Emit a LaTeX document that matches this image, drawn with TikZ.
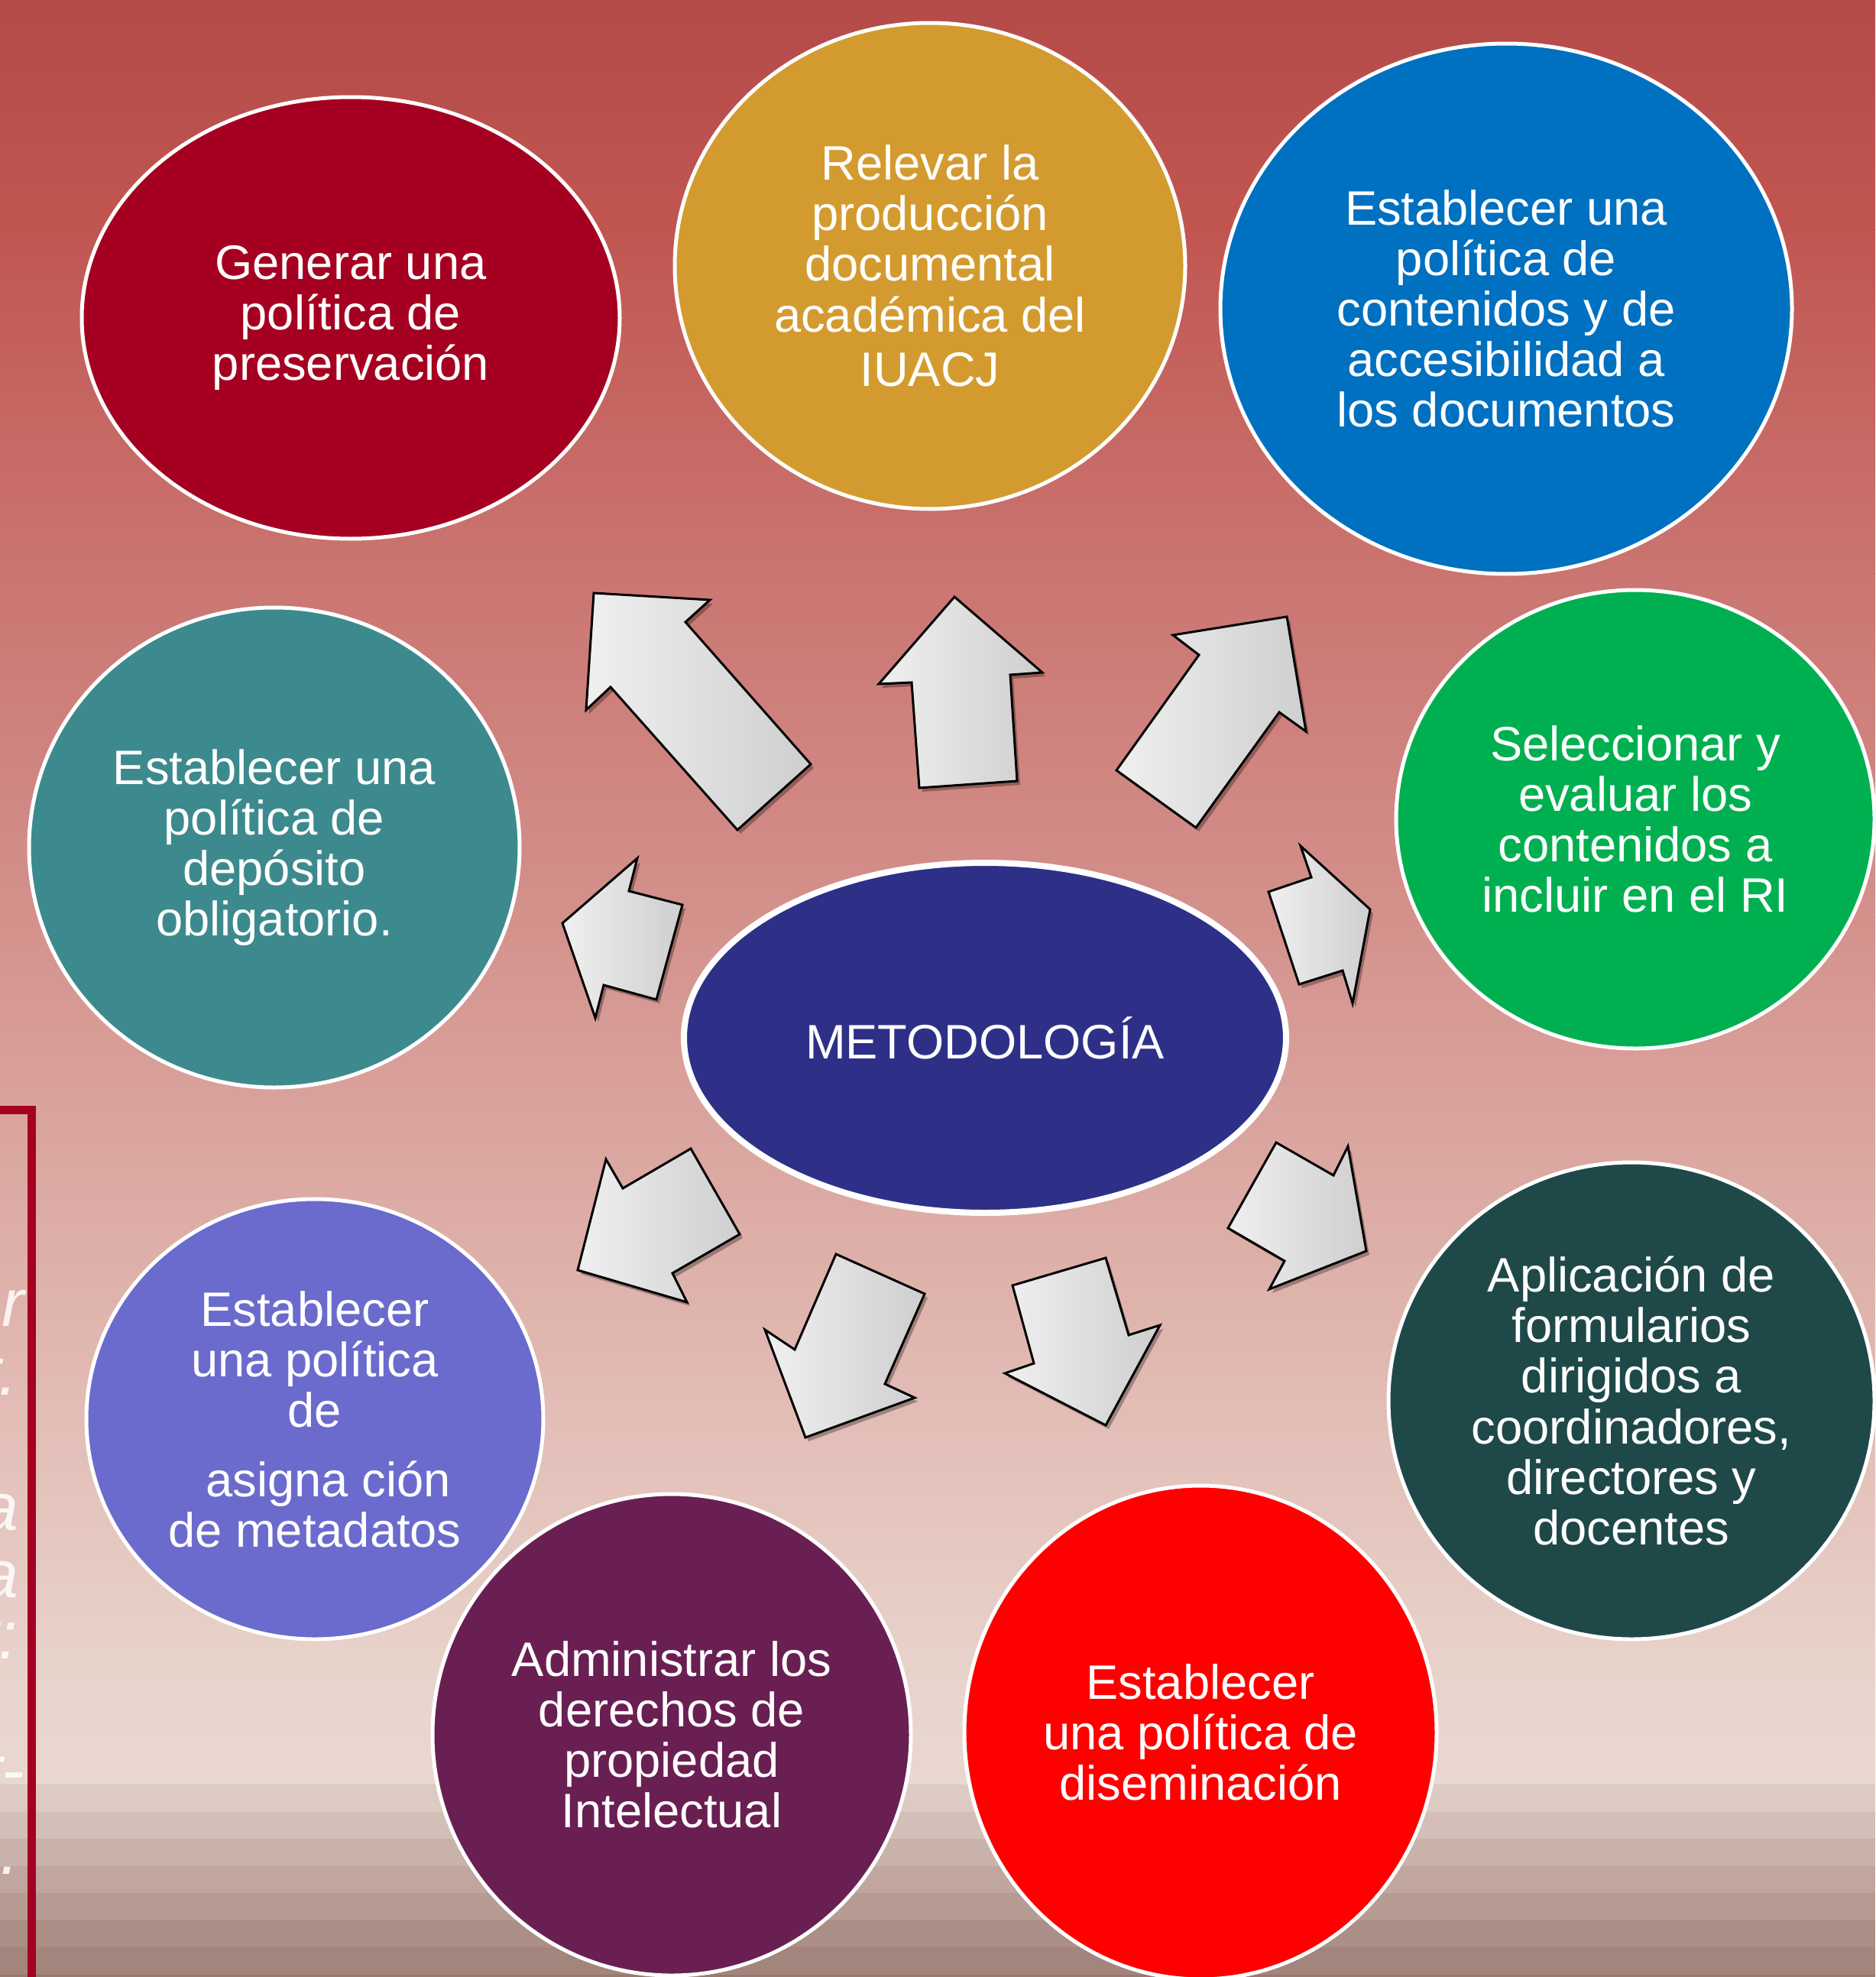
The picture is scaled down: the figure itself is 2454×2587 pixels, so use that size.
\documentclass[tikz,border=0pt]{standalone}
\usepackage{fontspec}
\setmainfont{Liberation Sans}
\usetikzlibrary{shapes.geometric}
\definecolor{bgA}{HTML}{B44B49}
\definecolor{bgB}{HTML}{C15651}
\definecolor{bgC}{HTML}{CA7571}
\definecolor{bgD}{HTML}{D4918C}
\definecolor{bgE}{HTML}{DBA6A0}
\definecolor{bgF}{HTML}{E2BDB6}
\definecolor{bgG}{HTML}{E8D4CC}
\definecolor{bgH}{HTML}{E9D8D0}
\definecolor{stA}{HTML}{DDCAC2}
\definecolor{stB}{HTML}{D3BFB7}
\definecolor{stC}{HTML}{C9B2AA}
\definecolor{stD}{HTML}{C0A69E}
\definecolor{stE}{HTML}{B69B93}
\definecolor{stF}{HTML}{AB8F86}
\definecolor{stG}{HTML}{A2857C}
\definecolor{stH}{HTML}{98786F}
\definecolor{cGen}{HTML}{A50021}
\definecolor{cRel}{HTML}{D39B2F}
\definecolor{cCon}{HTML}{0070C0}
\definecolor{cSel}{HTML}{00B050}
\definecolor{cDep}{HTML}{3D8A8E}
\definecolor{cMet}{HTML}{2E3088}
\definecolor{cApl}{HTML}{1F4849}
\definecolor{cMeta}{HTML}{6B6BCD}
\definecolor{cAdm}{HTML}{6A1F52}
\definecolor{cDis}{HTML}{FF0000}
\definecolor{boxred}{HTML}{A50021}
\newcommand\blockarr[1]{%
  \fill[black,opacity=.3,shift={(4,5)}] #1 -- cycle;
  \draw[arrowbox] #1 -- cycle;}
\begin{document}
\begin{tikzpicture}[x=0.1mm,y=-0.1mm,
  bubble/.style={ellipse, draw=white, line width=0.5mm, inner sep=0pt, text=white,
    align=center, font=\fontsize{18}{18.8}\selectfont},
  arrowbox/.style={draw=black, line width=0.3mm, line join=miter,
    left color=gray!12, right color=gray!38},
  faint/.style={text=white, text opacity=0.85, inner sep=0pt, anchor=base east,
    font=\itshape\fontsize{25}{25}\selectfont}]
\clip (0,0) rectangle (2454,2587);
% background
\fill[top color=bgA, bottom color=bgB] (0,-1) rectangle (2454,301);
\fill[top color=bgB, bottom color=bgC] (0,300) rectangle (2454,751);
\fill[top color=bgC, bottom color=bgD] (0,750) rectangle (2454,1201);
\fill[top color=bgD, bottom color=bgE] (0,1200) rectangle (2454,1501);
\fill[top color=bgE, bottom color=bgF] (0,1500) rectangle (2454,1851);
\fill[top color=bgF, bottom color=bgG] (0,1850) rectangle (2454,2201);
\fill[top color=bgG, bottom color=bgH] (0,2200) rectangle (2454,2336);
\fill[stA] (0,2335) rectangle (2454,2371);
\fill[stB] (0,2371) rectangle (2454,2406);
\fill[stC] (0,2406) rectangle (2454,2442);
\fill[stD] (0,2442) rectangle (2454,2477);
\fill[stE] (0,2477) rectangle (2454,2513);
\fill[stF] (0,2513) rectangle (2454,2548);
\fill[stG] (0,2548) rectangle (2454,2584);
\fill[stH] (0,2584) rectangle (2454,2600);
% faint clipped text box
\node[faint] (f1) at (32,1735) {er};
\node[faint] (f2) at (24,1825) {r.};
\node[faint] (f3) at (25,2002) {a};
\node[faint] (f4) at (25,2090) {a};
\node[faint] (f5) at (24,2170) {r:};
\node[faint] (f6) at (32,2346) {r-};
\node[faint] (f7) at (26,2452) {s.};
\draw[boxred, line width=1.1mm] (-100,1452) rectangle (41.5,2700);
% ellipses
\node[bubble, fill=cGen, minimum width=70.4mm, minimum height=57.8mm] (gen) at (459,416)
  {Generar una\\política de\\preservación};
\node[bubble, fill=cRel, minimum width=66.8mm, minimum height=63.6mm] (rel) at (1217,348)
  {Relevar la\\producción\\documental\\académica del\\[1.5pt]IUACJ};
\node[bubble, fill=cCon, minimum width=74.8mm, minimum height=69.4mm] (con) at (1971,404)
  {Establecer una\\política de\\contenidos y de\\accesibilidad a\\los documentos};
\node[bubble, fill=cSel, minimum width=62.6mm, minimum height=60.0mm] (sel) at (2140,1072)
  {Seleccionar y\\evaluar los\\contenidos a\\incluir en el RI};
\node[bubble, fill=cDep, minimum width=64.2mm, minimum height=62.8mm] (dep) at (359,1109)
  {Establecer una\\política de\\depósito\\obligatorio.};
\node[bubble, fill=cMet, line width=0.8mm, minimum width=78.8mm, minimum height=45.8mm] (met) at (1289,1358)
  {METODOLOGÍA};
\node[bubble, fill=cApl, minimum width=63.6mm, minimum height=62.4mm] (apl) at (2135,1833)
  {Aplicación de\\formularios\\dirigidos a\\coordinadores,\\directores y\\docentes};
\node[bubble, fill=cMeta, minimum width=59.8mm, minimum height=57.6mm] (meta) at (412,1857)
  {Establecer\\una política\\de\\[7pt]\hspace*{3.5mm}asigna ción\\de metadatos};
\node[bubble, fill=cAdm, minimum width=62.6mm, minimum height=63.0mm] (adm) at (879,2270)
  {Administrar los\\derechos de\\propiedad\\Intelectual};
\node[bubble, fill=cDis, minimum width=61.8mm, minimum height=64.6mm] (dis) at (1571,2267)
  {Establecer\\una política de\\diseminación};
% block arrows
\blockarr{(777,776) -- (929,785) -- (897,814) -- (1061,1000) -- (965,1086) -- (799,899) -- (767,929)}
\blockarr{(1249,781) -- (1364,880) -- (1322,883) -- (1331,1022) -- (1203,1031) -- (1193,893) -- (1150,895)}
\blockarr{(1684,807) -- (1709,957) -- (1674,932) -- (1565,1083) -- (1461,1008) -- (1569,857) -- (1535,831)}
\blockarr{(1702,1107) -- (1793,1190) -- (1770,1313) -- (1757,1270) -- (1700,1288) -- (1660,1167) -- (1716,1148)}
\blockarr{(834,1123) -- (823,1166) -- (893,1184) -- (859,1308) -- (790,1289) -- (779,1332) -- (736,1208)}
\blockarr{(904,1503) -- (968,1615) -- (880,1666) -- (899,1704) -- (756,1662) -- (793,1517) -- (815,1555)}
\blockarr{(1094,1641) -- (1210,1693) -- (1158,1811) -- (1197,1829) -- (1054,1881) -- (1001,1740) -- (1040,1766)}
\blockarr{(1447,1646) -- (1477,1747) -- (1518,1734) -- (1447,1865) -- (1315,1797) -- (1353,1784) -- (1325,1682)}
\blockarr{(1670,1495) -- (1745,1538) -- (1764,1500) -- (1788,1637) -- (1661,1687) -- (1681,1650) -- (1607,1607)}
\end{tikzpicture}
\end{document}
